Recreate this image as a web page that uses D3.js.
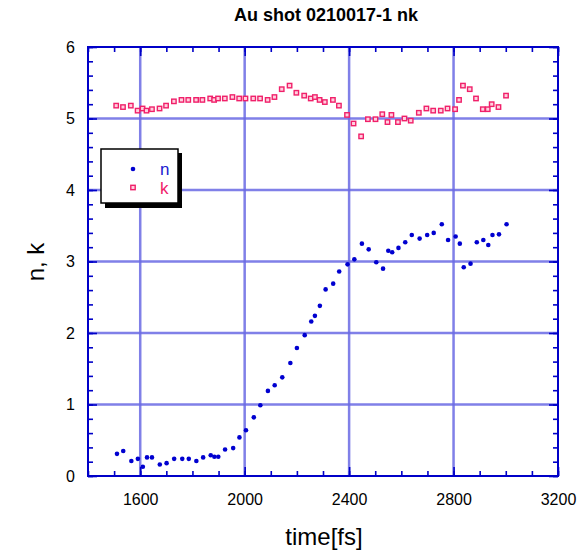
<!DOCTYPE html>
<html><head><meta charset="utf-8">
<script src="https://cdn.jsdelivr.net/npm/d3@7/dist/d3.min.js"></script>
<style>body{margin:0;background:#fff}svg{display:block}text{font-family:"Liberation Sans",Arial,sans-serif}</style>
</head><body><svg id="c" width="577" height="554"></svg>
<script>
const title = "Au shot 0210017-1 nk";
const xLabel = "time[fs]";
const yLabel = "n, k";
const xTicks = [1600, 2000, 2400, 2800, 3200];
const yTicks = [0, 1, 2, 3, 4, 5, 6];
const seriesNames = ["n", "k"];

const nTime = [1511,1535,1566,1591,1610,1626,1645,1675,1701,1730,1761,1786,1815,1841,1870,1884,1899,1925,1956,1980,2005,2035,2060,2089,2115,2144,2175,2200,2230,2255,2269,2288,2310,2339,2362,2394,2420,2449,2475,2504,2530,2550,2565,2589,2615,2640,2670,2699,2724,2755,2779,2808,2824,2839,2865,2889,2914,2933,2949,2974,3003];
const nValue = [0.31,0.35,0.21,0.24,0.13,0.26,0.26,0.16,0.18,0.24,0.24,0.24,0.21,0.26,0.29,0.27,0.27,0.37,0.39,0.54,0.64,0.82,0.99,1.19,1.27,1.38,1.58,1.79,1.97,2.16,2.24,2.38,2.61,2.69,2.86,2.96,3.03,3.25,3.17,2.99,2.90,3.15,3.13,3.19,3.27,3.37,3.32,3.37,3.40,3.52,3.30,3.35,3.25,2.92,2.97,3.27,3.30,3.23,3.37,3.38,3.52];

const kTime = [1508,1534,1564,1590,1609,1624,1645,1674,1699,1729,1758,1784,1814,1838,1868,1883,1898,1924,1953,1979,2003,2033,2059,2088,2114,2142,2172,2198,2228,2253,2269,2287,2307,2338,2361,2392,2417,2446,2472,2501,2527,2547,2562,2587,2612,2636,2667,2696,2722,2751,2777,2806,2821,2836,2862,2886,2912,2931,2946,2972,3001];
const kValue = [5.18,5.16,5.18,5.11,5.14,5.11,5.13,5.14,5.18,5.24,5.26,5.26,5.26,5.26,5.28,5.26,5.28,5.28,5.30,5.28,5.28,5.28,5.28,5.26,5.30,5.41,5.46,5.36,5.32,5.28,5.30,5.26,5.23,5.26,5.18,5.05,4.93,4.75,4.99,4.99,5.06,4.95,5.05,4.95,5.00,4.97,5.08,5.14,5.11,5.11,5.14,5.13,5.26,5.46,5.41,5.28,5.13,5.13,5.20,5.16,5.32];

const W = 577, H = 554;
const m = {l: 88, r: 558, t: 47, b: 476};
const x = d3.scaleLinear().domain([1400, 3200]).range([m.l, m.r]);
const y = d3.scaleLinear().domain([0, 6]).range([m.b, m.t]);
const svg = d3.select("#c");
const axisCol = "#0000c8", gridCol = "#6a6ae4";
const nCol = "#0000d0", kCol = "#f0206a";

// gridlines
const g = svg.append("g");
g.selectAll("line.vx").data(xTicks.filter(t => t > 1400 && t < 3200)).join("line")
  .attr("x1", d => x(d)).attr("x2", d => x(d)).attr("y1", m.t).attr("y2", m.b)
  .attr("stroke", gridCol).attr("stroke-width", 2.5).attr("opacity", 0.85);
g.selectAll("line.hy").data(yTicks.filter(t => t > 0 && t < 6)).join("line")
  .attr("y1", d => y(d)).attr("y2", d => y(d)).attr("x1", m.l).attr("x2", m.r)
  .attr("stroke", gridCol).attr("stroke-width", 2.5).attr("opacity", 0.85);

// axes with inward ticks
const xMinor = d3.range(1400, 3201, 100);
const yMinor = d3.range(0, 6.001, 0.2);
function styleAxis(sel) {
  sel.select(".domain").remove();
  sel.selectAll(".tick line").attr("stroke", axisCol).attr("stroke-width", 1.6);
  sel.selectAll("text").attr("fill", "#000").style("font-size", "16px");
}
svg.append("g").attr("transform", `translate(0,${m.b})`)
  .call(d3.axisBottom(x).tickValues(xMinor).tickSize(-5).tickFormat(""))
  .call(styleAxis);
svg.append("g").attr("transform", `translate(0,${m.b})`)
  .call(d3.axisBottom(x).tickValues(xTicks).tickSize(-9).tickPadding(18).tickFormat(d3.format("d")))
  .call(styleAxis);
svg.append("g").attr("transform", `translate(0,${m.t})`)
  .call(d3.axisTop(x).tickValues(xMinor).tickSize(-5).tickFormat(""))
  .call(styleAxis);
svg.append("g").attr("transform", `translate(0,${m.t})`)
  .call(d3.axisTop(x).tickValues(xTicks).tickSize(-9).tickFormat(""))
  .call(styleAxis);
svg.append("g").attr("transform", `translate(${m.l},0)`)
  .call(d3.axisLeft(y).tickValues(yMinor).tickSize(-5).tickFormat(""))
  .call(styleAxis);
svg.append("g").attr("transform", `translate(${m.l},0)`)
  .call(d3.axisLeft(y).tickValues(yTicks).tickSize(-9).tickPadding(13).tickFormat(d3.format("d")))
  .call(styleAxis);
svg.append("g").attr("transform", `translate(${m.r},0)`)
  .call(d3.axisRight(y).tickValues(yMinor).tickSize(-5).tickFormat(""))
  .call(styleAxis);
svg.append("g").attr("transform", `translate(${m.r},0)`)
  .call(d3.axisRight(y).tickValues(yTicks).tickSize(-9).tickFormat(""))
  .call(styleAxis);

svg.append("rect").attr("x", m.l).attr("y", m.t).attr("width", m.r - m.l).attr("height", m.b - m.t)
  .attr("fill", "none").attr("stroke", axisCol).attr("stroke-width", 2);

// data
const nData = nTime.map((t, i) => ({t, v: nValue[i]}));
const kData = kTime.map((t, i) => ({t, v: kValue[i]}));
svg.append("g").selectAll("rect").data(kData).join("rect")
  .attr("x", d => x(d.t) - 2.2).attr("y", d => y(d.v) - 2.2).attr("width", 4.4).attr("height", 4.4)
  .attr("fill", "#ffd0de").attr("stroke", kCol).attr("stroke-width", 1.4);
svg.append("g").selectAll("circle").data(nData).join("circle")
  .attr("cx", d => x(d.t)).attr("cy", d => y(d.v)).attr("r", 2.3).attr("fill", nCol);

// legend
const lg = svg.append("g");
lg.append("rect").attr("x", 105).attr("y", 153).attr("width", 77).attr("height", 55).attr("fill", "#000");
lg.append("rect").attr("x", 101).attr("y", 149).attr("width", 77).attr("height", 54)
  .attr("fill", "#fff").attr("stroke", "#000").attr("stroke-width", 1.5);
lg.append("circle").attr("cx", 133).attr("cy", 169).attr("r", 2.3).attr("fill", nCol);
lg.append("rect").attr("x", 130.8).attr("y", 185.3).attr("width", 4.4).attr("height", 4.4)
  .attr("fill", "#ffd0de").attr("stroke", kCol).attr("stroke-width", 1.4);
lg.append("text").attr("x", 160).attr("y", 175).attr("fill", "#2020d0").style("font-size", "17px").text(seriesNames[0]);
lg.append("text").attr("x", 160).attr("y", 194).attr("fill", kCol).style("font-size", "17px").text(seriesNames[1]);

// titles
svg.append("text").attr("x", 326).attr("y", 21).attr("text-anchor", "middle")
  .style("font-size", "18px").style("font-weight", "bold").text(title);
svg.append("text").attr("x", 324).attr("y", 545).attr("text-anchor", "middle")
  .style("font-size", "24px").text(xLabel);
svg.append("text").attr("transform", "translate(44,262) rotate(-90)").attr("text-anchor", "middle")
  .style("font-size", "24px").text(yLabel);
</script></body></html>
